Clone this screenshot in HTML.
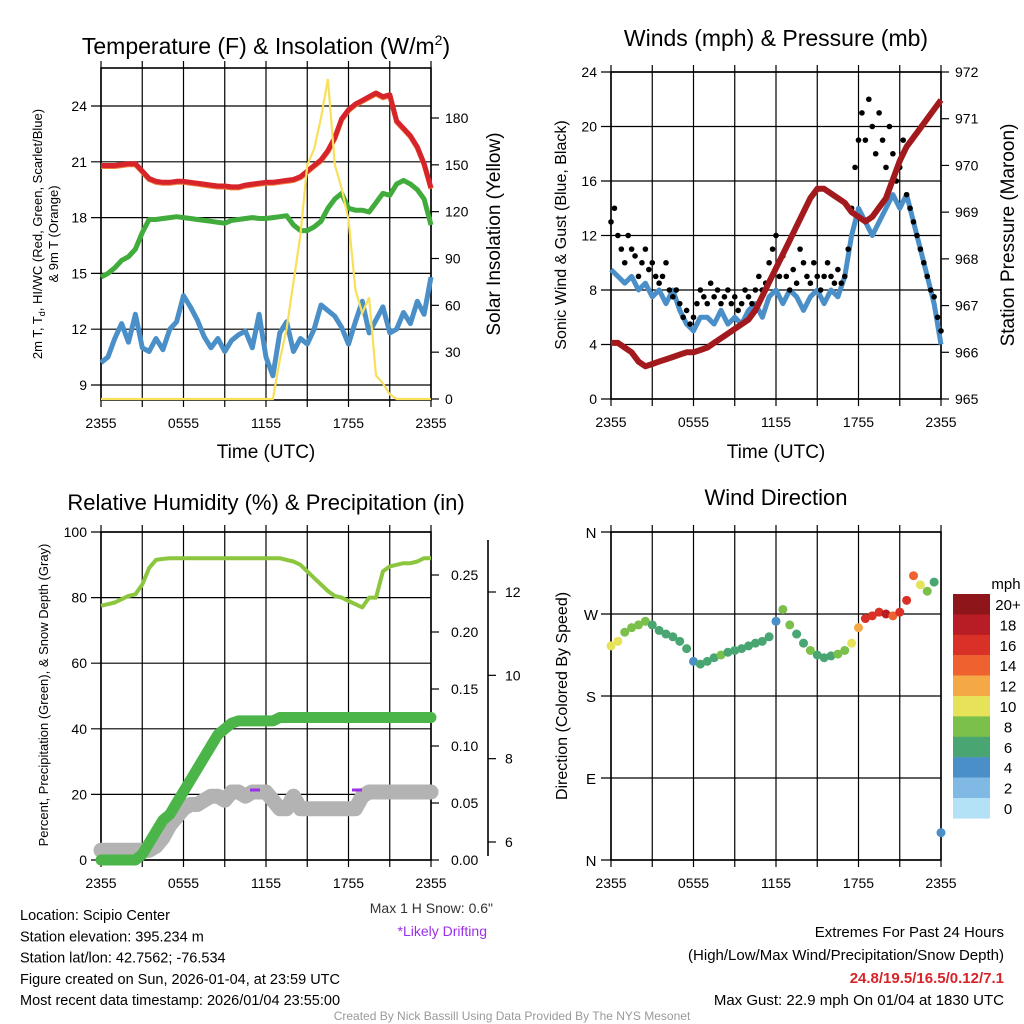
<!DOCTYPE html>
<html><head><meta charset="utf-8"><style>
html,body{margin:0;padding:0;background:#fff}
svg{display:block;font-family:"Liberation Sans",sans-serif}
</style></head><body>
<svg id="c" width="1024" height="1024" viewBox="0 0 1024 1024" xmlns="http://www.w3.org/2000/svg"></svg>
<script>
const timeTicks = ["2355","0555","1155","1755","2355"];
const tempRed = [20.8,20.8,20.8,20.85,20.9,20.9,20.5,20.1,19.95,19.9,19.9,19.95,19.95,19.9,19.85,19.8,19.75,19.7,19.7,19.65,19.65,19.75,19.8,19.85,19.9,19.9,19.95,20.0,20.05,20.2,20.5,20.8,21.1,21.6,22.3,23.3,23.8,24.1,24.3,24.5,24.7,24.5,24.6,23.2,22.8,22.4,21.8,20.9,19.6];
const dewGreen = [14.8,15.0,15.3,15.7,15.9,16.3,17.2,17.9,17.9,17.95,18.0,18.05,18.0,17.95,17.9,17.85,17.8,17.75,17.7,17.85,17.9,17.95,18.0,17.95,17.95,18.0,18.05,18.1,17.6,17.3,17.3,17.5,17.8,18.5,19.0,19.3,18.5,18.4,18.4,18.3,18.8,19.3,19.2,19.8,20.0,19.8,19.5,19.0,17.6];
const chillBlue = [10.2,10.5,11.5,12.3,11.3,12.8,11.0,10.8,11.5,10.9,12.0,12.4,13.8,13.2,12.5,11.6,11.0,11.5,10.8,11.4,11.7,11.9,11.0,12.8,10.5,9.5,11.8,12.4,10.8,11.5,11.2,12.0,13.3,13.0,12.7,12.1,11.2,12.4,13.5,11.8,12.5,13.2,11.8,12.0,12.9,12.3,13.5,12.8,14.8];
const solar = [0,0,0,0,0,0,0,0,0,0,0,0,0,0,0,0,0,0,0,0,0,0,0,0,0,0,25,45,75,105,150,160,180,205,150,135,115,70,55,65,15,10,3,0,0,0,0,0,0];
const pressure = [966.2,966.2,966.1,966.0,965.8,965.7,965.75,965.8,965.85,965.9,965.95,966.0,966.0,966.05,966.1,966.2,966.3,966.4,966.5,966.6,966.7,966.9,967.2,967.5,967.8,968.1,968.4,968.7,969.0,969.3,969.5,969.5,969.4,969.3,969.2,969.0,968.9,968.8,968.9,969.1,969.3,969.7,970.1,970.4,970.6,970.8,971.0,971.2,971.4];
const windSpeed = [9.5,9,8.5,9,8,8.5,7.5,8,7,8,6.5,5.5,5,6,6,5.5,6.5,5.5,6,5.5,6.5,7,6,7.5,8,7,8,7.5,6.5,7.5,8,7,8,7.5,9,12,14,13,12,13,14,15,14,15,13,11,9,7,4];
const windGust = [13,14,12,11,10,12,11,10.5,9,10,11,9.5,10,9,8.5,9,10,8,7.5,8,7,6,6.5,5.5,6,7,8,7.5,7,8.5,7.5,8,7,7.5,8,7,7.5,6.5,7,8,7.5,7,8,9,8,8.5,10,11,12,9,10.5,9,8,9.5,8.5,11,10,9,8.5,10,9,8,9,10,9,8.5,9.5,8.5,9,11,14,17,19,21,19,22,20,18,21,19,17,20,18,16,17,19,15,14,13,12,11,10,9,8,7.5,6,5];
const relHum = [77.5,78,78.5,79.5,80.5,81,84,89,91.5,91.8,92,92,92,92,92,92,92,92,92,92,92,92,92,92,92,92,92,91.5,91,90,88,86,84,82,80.5,80,79,78,77,80,80,88,89.5,90,90.5,90.5,91,92,92];
const precip = [0,0,0,0,0,0,0.005,0.015,0.025,0.035,0.04,0.05,0.06,0.07,0.08,0.09,0.10,0.11,0.115,0.12,0.122,0.122,0.122,0.122,0.122,0.122,0.125,0.125,0.125,0.125,0.125,0.125,0.125,0.125,0.125,0.125,0.125,0.125,0.125,0.125,0.125,0.125,0.125,0.125,0.125,0.125,0.125,0.125,0.125];
const snowDepth = [5.8,5.8,5.8,5.8,5.8,5.8,5.8,5.8,5.9,6.1,6.4,6.6,6.8,6.9,6.9,7.0,7.1,7.1,7.0,7.2,7.2,7.1,7.2,7.2,7.2,7.0,6.8,6.8,7.1,6.8,6.8,6.8,6.8,6.8,6.8,6.8,6.8,6.8,7.1,7.2,7.2,7.2,7.2,7.2,7.2,7.2,7.2,7.2,7.2];
const windDir = [235,240,250,255,258,262,258,252,248,245,240,232,218,215,218,222,225,228,230,232,235,238,240,245,262,275,258,248,238,230,225,222,224,226,230,238,255,265,268,272,270,268,272,285,312,302,295,305,30];
const dirSpeed = [10,9,8,7,8,7,6,6,6.5,6,5.5,5,4.5,5,6,6.5,7,6.5,6.5,6,6,6.5,6.5,5,4.5,7,7,6,6.5,7,6.5,6,6,7,8,10,12,15,16,16,17,14,15,16,13,10,8,6,4];
const cbLabels = ["20+","18","16","14","12","10","8","6","4","2","0"];
const cbColors = ["#8e1519","#b81c24","#d93128","#ef6230","#f4a946","#e6e25a","#7ac04b","#49a672","#4a8fc8","#7fb9e4","#b3e2f7"];

const svg = document.getElementById('c');
const NS = "http://www.w3.org/2000/svg";
function mk(tag, attrs, parent, text){
  const e = document.createElementNS(NS, tag);
  for (const k in attrs) e.setAttribute(k, attrs[k]);
  if (text !== undefined) e.textContent = text;
  (parent||svg).appendChild(e);
  return e;
}
function lin(d0,d1,r0,r1){ return v => r0 + (v-d0)*(r1-r0)/(d1-d0); }
function txt(x,y,s,size,opts,parent){
  opts = opts||{};
  const a = {x:x,y:y,'font-size':size,fill:opts.fill||'#000','text-anchor':opts.anchor||'middle'};
  if (opts.rot!==undefined) a.transform = `rotate(${opts.rot} ${x} ${y})`;
  if (opts.weight) a['font-weight']=opts.weight;
  return mk('text',a,parent,s);
}
function pathFrom(arr, xs, ys){
  return arr.map((v,i)=>(i?'L':'M')+xs(i).toFixed(1)+' '+ys(v).toFixed(1)).join(' ');
}
function frame(g, x0,y0,x1,y1, hTicksY){
  const n = 8;
  for (let i=0;i<=n;i++){
    const x = x0 + (x1-x0)*i/n;
    const l = mk('line',{x1:x,y1:y0,x2:x,y2:y1,stroke:'#000','stroke-width':1.2},g);
    
    
    mk('line',{x1:x,y1:y1,x2:x,y2:y1+7,stroke:'#000','stroke-width':1.2},g);
    mk('line',{x1:x,y1:y0,x2:x,y2:y0-7,stroke:'#000','stroke-width':1.2},g);
  }
  hTicksY.forEach(y=>{
    const l = mk('line',{x1:x0-10,y1:y,x2:x1,y2:y,stroke:'#000','stroke-width':1.2},g);
    
    
  });
  mk('rect',{x:x0,y:y0,width:x1-x0,height:y1-y0,fill:'none',stroke:'#000','stroke-width':1.6},g);
  timeTicks.forEach((t,i)=>{
    const tl = txt(x0+(x1-x0)*i/4, y1+28, t, 14, {}, g);
    
    
  });
}

/* ---------- Panel 1 ---------- */
(function(){
  const g = mk('g',{});
  const X0=101,X1=431,Y0=68,Y1=400;
  const xs = i => X0 + (X1-X0)*i/(tempRed.length-1);
  const yT = lin(9,24,385,106);
  const yS = lin(0,180,399,118);
  const ticks=[9,12,15,18,21,24];
  frame(g,X0,Y0,X1,Y1,ticks.map(yT));
  ticks.forEach(t=>txt(X0-14,yT(t)+5,String(t),14,{anchor:'end'},g));
  [0,30,60,90,120,150,180].forEach(t=>{
    mk('line',{x1:X1,y1:yS(t),x2:X1+8,y2:yS(t),stroke:'#000','stroke-width':1.2},g);
    txt(X1+14,yS(t)+5,String(t),14,{anchor:'start'},g);
  });
  const pb = mk('path',{d:pathFrom(chillBlue,xs,yT),fill:'none',stroke:'#4a8fc8','stroke-width':5,'stroke-linejoin':'round'},g);
   
  const pg = mk('path',{d:pathFrom(dewGreen,xs,yT),fill:'none',stroke:'#41ab3c','stroke-width':5,'stroke-linejoin':'round'},g);
   
  const po = mk('path',{d:pathFrom(tempRed,xs,v=>yT(v)+1),fill:'none',stroke:'#f07a3a','stroke-width':5},g);
   
  const pr = mk('path',{d:pathFrom(tempRed,xs,yT),fill:'none',stroke:'#d7242a','stroke-width':5,'stroke-linejoin':'round'},g);
   
  const py = mk('path',{d:pathFrom(solar,xs,yS),fill:'none',stroke:'#f8e05a','stroke-width':2.2},g);
   
  const t = mk('text',{x:266,y:54,'font-size':23,'text-anchor':'middle',},g);
  t.innerHTML = 'Temperature (F) &amp; Insolation (W/m<tspan dy="-9" font-size="14">2</tspan><tspan dy="9">)</tspan>';
  txt(266,458,'Time (UTC)',19,{},g);
  const yl = mk('text',{x:42,y:234,'font-size':13,'text-anchor':'middle',transform:'rotate(-90 42 234)',},g);
  yl.innerHTML='2m T, T<tspan dy="3" font-size="9">d</tspan><tspan dy="-3">, HI/WC (Red, Green, Scarlet/Blue)</tspan>';
  txt(58,234,'& 9m T (Orange)',13,{rot:-90},g);
  txt(500,234,'Solar Insolation (Yellow)',19,{rot:-90},g);
})();

/* ---------- Panel 2 ---------- */
(function(){
  const g = mk('g',{});
  const X0=611,X1=941,Y0=72,Y1=399;
  const xs = i => X0 + (X1-X0)*i/(windSpeed.length-1);
  const xg = i => X0 + (X1-X0)*i/(windGust.length-1);
  const yW = lin(0,24,399,72);
  const yP = lin(965,972,399,72);
  const ticks=[0,4,8,12,16,20,24];
  frame(g,X0,Y0,X1,Y1,ticks.map(yW));
  ticks.forEach(t=>txt(X0-14,yW(t)+5,String(t),14,{anchor:'end'},g));
  [965,966,967,968,969,970,971,972].forEach(t=>{
    mk('line',{x1:X1,y1:yP(t),x2:X1+8,y2:yP(t),stroke:'#000','stroke-width':1.2},g);
    txt(X1+14,yP(t)+5,String(t),14,{anchor:'start'},g);
  });
  const pb = mk('path',{d:pathFrom(windSpeed,xs,yW),fill:'none',stroke:'#4a8fc8','stroke-width':5,'stroke-linejoin':'round'},g);
   
  windGust.forEach((v,i)=>{
    const c = mk('circle',{cx:xg(i),cy:yW(v),r:2.8,fill:'#000'},g);
    
    
  });
  const pp = mk('path',{d:pathFrom(pressure,xs,yP),fill:'none',stroke:'#a31a1e','stroke-width':6,'stroke-linejoin':'round'},g);
   
  txt(776,46,'Winds (mph) & Pressure (mb)',23,{},g);
  txt(776,458,'Time (UTC)',19,{},g);
  txt(566,235,'Sonic Wind & Gust (Blue, Black)',16,{rot:-90},g);
  txt(1014,235,'Station Pressure (Maroon)',19,{rot:-90},g);
})();

/* ---------- Panel 3 ---------- */
(function(){
  const g = mk('g',{});
  const X0=101,X1=431,Y0=532,Y1=860;
  const xs = i => X0 + (X1-X0)*i/(relHum.length-1);
  const yR = lin(0,100,860,532);
  const yPr = lin(0,0.25,860,575);
  const ySn = lin(6,12,842,592);
  const ticks=[0,20,40,60,80,100];
  frame(g,X0,Y0,X1,Y1,ticks.map(yR));
  ticks.forEach(t=>txt(X0-14,yR(t)+5,String(t),14,{anchor:'end'},g));
  [0,0.05,0.10,0.15,0.20,0.25].forEach(t=>{
    mk('line',{x1:X1,y1:yPr(t),x2:X1+8,y2:yPr(t),stroke:'#000','stroke-width':1.2},g);
    txt(X1+20,yPr(t)+5,t.toFixed(2),14,{anchor:'start'},g);
  });
  mk('line',{x1:488,y1:540,x2:488,y2:856,stroke:'#000','stroke-width':1.6,},g);
  [6,8,10,12].forEach(t=>{
    mk('line',{x1:488,y1:ySn(t),x2:496,y2:ySn(t),stroke:'#000','stroke-width':1.2},g);
    txt(505,ySn(t)+5,String(t),14,{anchor:'start'},g);
  });
  const ps = mk('path',{d:pathFrom(snowDepth,xs,ySn),fill:'none',stroke:'#b3b3b3','stroke-width':15,'stroke-linejoin':'round','stroke-linecap':'round'},g);
   
  const pp = mk('path',{d:pathFrom(precip,xs,yPr),fill:'none',stroke:'#4cb54a','stroke-width':11,'stroke-linejoin':'round','stroke-linecap':'round'},g);
   
  const ph = mk('path',{d:pathFrom(relHum,xs,yR),fill:'none',stroke:'#8cc63f','stroke-width':4,'stroke-linejoin':'round'},g);
   
  mk('line',{x1:250,y1:790,x2:260,y2:790,stroke:'#9b30e8','stroke-width':3,},g);
  mk('line',{x1:352,y1:790,x2:362,y2:790,stroke:'#9b30e8','stroke-width':3,},g);
  txt(266,510,'Relative Humidity (%) & Precipitation (in)',22,{},g);
  txt(48,695,'Percent, Precipitation (Green), & Snow Depth (Gray)',13,{rot:-90},g);
  txt(493,913,'Max 1 H Snow: 0.6"',14,{anchor:'end',fill:'#333'},g);
  txt(487,936,'*Likely Drifting',14,{anchor:'end',fill:'#9b30e8'},g);
})();

/* ---------- Panel 4 ---------- */
(function(){
  const g = mk('g',{});
  const X0=611,X1=941,Y0=532,Y1=860;
  const xs = i => X0 + (X1-X0)*i/(windDir.length-1);
  const yD = lin(0,360,860,532);
  const dl = [[0,'N'],[90,'E'],[180,'S'],[270,'W'],[360,'N']];
  frame(g,X0,Y0,X1,Y1,dl.map(d=>yD(d[0])));
  dl.forEach(d=>txt(X0-20,yD(d[0])+6,d[1],15,{},g));
  const col = v => cbColors[10-Math.min(10,Math.max(0,Math.floor((v+1)/2)))];
  windDir.forEach((v,i)=>{
    const c = mk('circle',{cx:xs(i),cy:yD(v),r:4.5,fill:col(dirSpeed[i])},g);
    
    
  });
  txt(776,505,'Wind Direction',22,{},g);
  txt(567,696,'Direction (Colored By Speed)',16,{rot:-90},g);
  const cb = mk('g',{},g);
  txt(1006,589,'mph',15,{},cb);
  cbColors.forEach((c,i)=>{
    const r = mk('rect',{x:953,y:594+i*20.4,width:37,height:20.6,fill:c},cb);
    
    
    txt(1008,594+i*20.4+16,cbLabels[i],15,{},cb);
  });
})();

/* ---------- Footer text ---------- */
(function(){
  const g = mk('g',{});
  const lines = ['Location: Scipio Center','Station elevation: 395.234 m','Station lat/lon: 42.7562; -76.534','Figure created on Sun, 2026-01-04, at 23:59 UTC','Most recent data timestamp: 2026/01/04 23:55:00'];
  lines.forEach((s,i)=>txt(20,920+i*21.3,s,14.5,{anchor:'start'},g));
  const r = mk('g',{});
  txt(1004,937,'Extremes For Past 24 Hours',15,{anchor:'end'},r);
  txt(1004,960,'(High/Low/Max Wind/Precipitation/Snow Depth)',15,{anchor:'end'},r);
  txt(1004,983,'24.8/19.5/16.5/0.12/7.1',15,{anchor:'end',fill:'#d7242a',weight:'bold'},r);
  txt(1004,1005,'Max Gust: 22.9 mph On 01/04 at 1830 UTC',15,{anchor:'end'},r);
  txt(512,1020,'Created By Nick Bassill Using Data Provided By The NYS Mesonet',12,{fill:'#999'},svg);
})();
</script>
</body></html>
